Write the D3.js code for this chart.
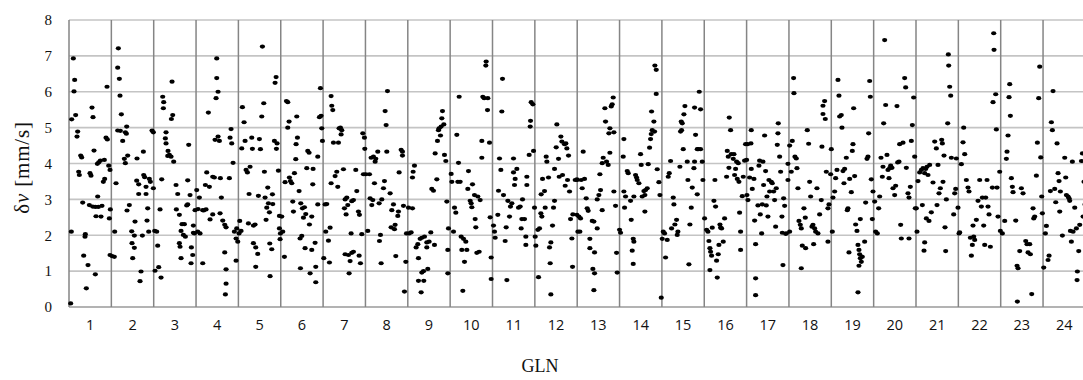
<!DOCTYPE html>
<html>
<head>
<meta charset="utf-8">
<script src="https://cdn.jsdelivr.net/npm/d3@7"></script>
<style>
  html, body { margin: 0; padding: 0; background: #fff; }
  svg { display: block; }
</style>
</head>
<body>
<svg id="chart" width="1083" height="380"></svg>
<script>
// GLONASS slot numbers (categories)
const gln = d3.range(1, 25);
const yTicks = [0, 1, 2, 3, 4, 5, 6, 7, 8];
// each point: [epoch index within slot window (0-127), δv in mm/s]
const g1 = [[5,0.10],[13,6.93],[17,6.33],[15,6.01],[20,5.35],[8,5.23],[26,4.89],[24,4.75],[35,4.22],[38,4.17],[29,3.77],[31,3.68],[7,2.10],[41,2.91],[49,2.03],[48,1.96],[44,1.43],[57,1.17],[52,0.52],[69,5.56],[72,5.29],[75,4.36],[63,3.73],[66,3.66],[61,2.84],[71,2.80],[86,3.08],[79,2.79],[81,2.53],[96,2.52],[88,2.79],[99,2.82],[79,0.91],[89,4.03],[94,4.08],[106,4.10],[85,3.99],[103,3.49],[107,3.57],[114,6.14],[111,4.72],[115,4.67],[119,3.94],[123,3.82],[124,2.72],[121,2.47],[123,1.45]];
const g2 = [[9,1.40],[2,1.42],[10,2.10],[14,3.45],[21,7.21],[19,6.67],[24,6.36],[26,5.89],[30,5.37],[19,4.92],[27,4.91],[34,4.63],[42,4.87],[46,5.03],[45,4.83],[39,4.13],[42,4.01],[49,4.22],[47,2.69],[54,2.84],[61,2.11],[62,1.78],[69,1.65],[64,1.36],[71,2.38],[69,1.99],[77,4.14],[76,3.52],[82,3.42],[82,3.15],[89,0.99],[86,0.72],[93,1.99],[97,3.68],[100,3.62],[96,4.33],[104,3.35],[104,3.15],[107,2.41],[109,2.75],[112,2.10],[114,3.57],[117,3.49],[122,4.92],[126,4.87],[126,3.31]];
const g3 = [[3,2.12],[9,2.10],[4,1.01],[12,1.71],[15,1.11],[22,0.82],[19,2.72],[24,3.56],[27,5.86],[30,5.71],[29,5.54],[55,6.28],[57,5.35],[53,5.24],[37,4.87],[35,4.70],[37,4.56],[43,4.35],[47,4.24],[42,4.21],[52,4.19],[60,4.05],[67,3.40],[72,3.15],[68,2.72],[77,2.57],[85,2.31],[92,2.31],[82,2.12],[77,1.78],[79,1.68],[82,1.36],[89,2.01],[95,1.96],[102,2.86],[99,2.83],[105,4.52],[102,3.53],[109,3.12],[113,1.66],[117,1.45],[112,1.22],[122,2.05],[119,2.27],[124,2.70],[119,2.07]];
const g4 = [[2,3.26],[6,2.73],[10,3.05],[5,2.10],[12,2.05],[20,2.70],[20,1.22],[23,2.69],[30,2.72],[28,3.40],[32,3.75],[40,3.35],[42,2.44],[50,2.58],[37,5.42],[50,3.63],[57,4.66],[55,3.61],[66,4.75],[70,4.63],[62,6.93],[62,6.38],[66,6.00],[60,5.82],[73,3.59],[76,3.05],[72,2.61],[80,2.41],[86,2.29],[90,2.22],[100,3.59],[105,4.96],[102,4.72],[107,4.56],[111,4.02],[86,1.52],[90,1.05],[90,0.65],[88,0.35],[120,1.29],[115,2.10],[120,1.91],[125,1.82],[122,2.19]];
const g5 = [[4,2.40],[2,2.05],[8,2.12],[12,5.57],[17,5.15],[10,4.42],[20,4.63],[23,3.82],[27,3.75],[35,3.91],[40,4.72],[32,3.15],[30,2.33],[42,4.41],[45,2.27],[50,2.30],[45,1.78],[52,1.66],[58,1.48],[52,1.12],[60,3.10],[66,4.40],[63,4.68],[72,7.26],[76,5.68],[70,5.31],[78,3.77],[80,3.05],[85,2.77],[88,3.33],[90,2.89],[93,2.64],[83,2.43],[94,1.77],[100,1.61],[95,0.86],[102,3.14],[103,2.87],[108,4.63],[116,4.56],[114,4.41],[110,6.25],[113,6.41],[120,3.80],[123,2.19],[126,2.05],[125,1.89],[123,2.54]];
const g6 = [[3,2.52],[6,2.10],[11,1.40],[13,3.48],[21,5.71],[17,5.74],[25,5.17],[21,5.00],[26,3.61],[29,3.51],[33,3.45],[36,2.94],[38,2.66],[41,3.73],[45,4.12],[48,5.31],[50,4.72],[46,4.54],[55,3.23],[58,1.91],[63,1.98],[60,2.89],[65,2.75],[71,2.78],[68,2.49],[75,2.59],[78,3.87],[81,4.35],[85,4.30],[73,1.64],[59,1.08],[86,2.30],[93,2.52],[97,3.85],[96,3.42],[93,1.59],[103,1.79],[88,0.94],[105,1.12],[105,0.69],[111,2.86],[111,4.19],[116,5.29],[121,5.33],[119,6.10],[125,4.63],[123,4.98]];
const g7 = [[2,1.36],[6,2.86],[11,2.87],[8,2.10],[16,1.85],[21,2.21],[19,1.24],[24,5.88],[26,5.61],[29,5.49],[24,3.45],[31,4.58],[36,3.65],[41,3.77],[44,3.35],[48,4.98],[52,5.00],[56,4.93],[54,4.81],[46,4.58],[61,3.84],[66,3.00],[64,2.75],[71,3.05],[74,2.84],[69,2.58],[84,2.05],[86,2.95],[91,2.98],[66,1.47],[76,1.45],[81,1.28],[91,1.54],[86,1.51],[98,3.82],[101,3.23],[106,2.66],[109,2.57],[108,1.43],[112,1.22],[116,2.03],[78,0.94],[119,4.84],[124,4.72],[125,4.41],[121,3.70]];
const g8 = [[1,3.70],[7,2.12],[12,3.70],[14,3.03],[19,2.84],[22,2.98],[27,3.45],[17,4.16],[24,4.19],[29,4.05],[31,4.13],[37,4.33],[41,2.89],[45,2.01],[42,1.84],[47,1.22],[49,3.00],[54,3.31],[57,3.51],[59,5.46],[62,5.07],[66,6.02],[64,4.33],[74,3.17],[77,2.22],[79,2.70],[84,2.86],[87,2.17],[91,1.42],[89,2.29],[97,2.54],[99,2.66],[101,3.75],[107,4.38],[111,4.33],[111,4.22],[114,2.82],[117,0.43],[121,1.26],[123,2.05]];
const g9 = [[2,2.77],[14,2.75],[4,2.05],[10,2.08],[14,3.61],[16,3.77],[20,3.94],[25,1.66],[30,1.75],[32,1.36],[37,1.90],[42,1.93],[47,1.00],[42,0.96],[32,0.73],[48,0.73],[40,0.41],[60,1.06],[50,1.96],[57,1.80],[57,1.66],[64,1.82],[69,2.08],[72,3.29],[77,3.24],[80,1.73],[82,4.28],[87,3.56],[89,4.63],[94,4.98],[92,4.93],[98,4.78],[100,5.03],[102,5.26],[104,5.46],[108,5.09],[110,4.24],[114,4.07],[117,2.94],[120,0.94],[120,1.59],[122,2.19]];
const g10 = [[3,3.71],[5,3.49],[10,2.10],[13,2.77],[17,2.63],[20,4.80],[25,4.02],[27,5.86],[23,3.49],[30,3.49],[33,1.96],[35,1.59],[40,1.90],[43,1.26],[38,0.45],[47,1.82],[50,1.59],[53,3.29],[55,3.79],[60,2.96],[65,2.78],[67,3.42],[63,2.89],[73,3.12],[75,2.45],[77,2.22],[83,3.08],[80,1.51],[87,1.54],[90,2.98],[95,4.63],[95,4.16],[98,5.86],[102,5.82],[108,6.84],[107,6.73],[112,5.49],[113,5.82],[118,4.58],[120,2.50],[123,1.38],[123,0.78]];
const g11 = [[3,2.27],[6,2.10],[8,1.93],[16,2.57],[21,4.14],[25,3.82],[28,5.45],[30,6.36],[18,3.24],[33,3.12],[38,1.84],[41,2.22],[43,0.75],[46,2.96],[51,2.52],[54,2.80],[58,2.89],[63,4.14],[63,3.75],[68,3.57],[66,3.40],[73,3.85],[78,2.77],[83,2.80],[88,2.45],[86,2.19],[90,3.00],[96,2.45],[100,1.96],[100,1.73],[103,3.63],[103,3.40],[110,4.24],[113,5.03],[114,5.19],[116,5.71],[121,5.65],[123,4.35],[126,2.77]];
const g12 = [[1,1.96],[3,1.71],[11,0.83],[9,2.15],[14,2.19],[18,2.61],[21,2.52],[19,3.14],[23,3.57],[29,3.23],[31,2.77],[34,4.19],[36,4.05],[41,3.61],[44,1.66],[48,1.80],[46,1.22],[48,0.35],[53,2.27],[56,2.77],[59,2.96],[59,3.85],[64,4.45],[66,5.09],[71,4.13],[73,3.63],[78,4.75],[81,4.61],[83,3.68],[89,4.54],[93,4.56],[91,3.38],[96,4.42],[98,3.54],[101,4.22],[104,3.22],[107,2.45],[111,1.91],[113,1.12],[114,2.58],[121,3.54],[126,3.56],[126,2.57]];
const g13 = [[0,3.54],[2,2.10],[5,2.52],[10,2.47],[8,2.10],[12,3.54],[15,3.31],[18,4.33],[22,3.57],[27,3.03],[30,2.75],[33,2.68],[38,1.90],[38,1.64],[45,2.40],[50,2.38],[52,1.52],[60,2.19],[47,1.06],[52,0.94],[50,0.47],[60,3.00],[65,3.12],[70,3.26],[68,3.70],[75,2.70],[75,4.01],[78,4.16],[83,5.54],[85,5.17],[88,4.05],[93,3.96],[95,4.84],[98,4.98],[98,4.30],[102,5.59],[105,5.65],[108,5.84],[110,4.87],[110,3.22],[115,2.82],[118,1.51],[120,0.96]];
const g14 = [[0,2.15],[3,2.07],[13,4.68],[11,4.19],[13,3.22],[18,3.08],[15,2.77],[23,3.79],[26,3.73],[33,2.96],[35,2.43],[41,1.90],[43,1.82],[41,1.20],[38,1.57],[43,3.08],[48,3.68],[51,3.61],[53,3.54],[58,3.45],[63,4.26],[65,3.96],[68,3.08],[73,3.23],[76,3.12],[78,3.26],[83,3.31],[76,2.66],[86,3.98],[90,4.44],[93,4.68],[95,4.82],[98,4.93],[96,5.45],[103,5.17],[105,4.89],[106,6.73],[110,6.61],[110,5.94],[113,3.84],[118,3.48],[121,3.12],[125,0.26]];
const g15 = [[1,1.90],[4,2.10],[8,2.05],[11,1.38],[16,1.87],[19,3.63],[22,3.73],[26,4.07],[29,2.19],[34,3.05],[36,2.86],[39,2.30],[44,2.43],[46,2.01],[48,2.10],[54,3.91],[56,4.89],[59,4.93],[58,5.17],[61,5.12],[66,5.37],[69,5.60],[64,4.40],[76,4.05],[78,3.54],[81,1.19],[84,2.30],[88,2.77],[91,3.33],[96,3.87],[98,4.05],[101,4.80],[106,4.40],[109,4.40],[116,4.40],[112,6.00],[116,5.51],[98,5.56],[106,3.14],[123,3.54],[121,4.05]];
const g16 = [[1,2.47],[7,2.15],[11,2.10],[14,1.84],[17,1.64],[19,1.54],[22,1.43],[24,2.21],[17,1.03],[29,2.96],[34,2.80],[32,3.54],[37,1.29],[39,0.82],[42,1.47],[44,1.73],[47,2.30],[49,2.21],[52,2.19],[57,1.82],[61,2.47],[67,3.63],[69,4.35],[72,4.19],[74,3.88],[75,5.28],[79,4.93],[81,4.26],[87,4.13],[89,4.26],[91,3.68],[94,3.85],[97,4.05],[99,3.57],[102,4.01],[104,3.49],[106,2.63],[109,1.59],[109,2.10],[114,3.09],[117,3.63],[121,4.08],[124,4.54]];
const g17 = [[1,3.12],[4,2.98],[9,3.61],[3,4.54],[13,4.56],[14,4.93],[0,4.10],[14,3.85],[17,3.29],[24,2.41],[22,3.57],[27,1.75],[27,0.80],[27,0.33],[34,2.83],[37,3.94],[39,4.08],[41,2.58],[45,2.05],[49,4.05],[51,3.40],[54,4.78],[47,2.86],[57,3.79],[59,2.83],[61,3.08],[64,2.52],[67,3.54],[69,3.22],[74,3.49],[77,3.45],[81,3.22],[84,2.98],[87,2.24],[89,3.31],[92,4.52],[94,4.84],[95,5.12],[99,4.19],[102,3.77],[106,2.52],[109,1.17],[111,3.03],[114,2.82],[107,2.07],[117,2.04],[119,2.05],[124,3.54],[124,3.99]];
const g18 = [[2,4.50],[2,2.10],[7,3.77],[10,4.63],[14,6.38],[15,5.96],[18,4.19],[22,4.14],[24,3.87],[27,3.31],[30,2.40],[34,2.29],[37,2.19],[40,1.71],[45,2.75],[50,1.64],[37,1.08],[49,2.49],[55,4.93],[59,4.55],[62,3.49],[65,3.08],[69,2.24],[72,2.29],[74,1.75],[77,2.19],[80,2.10],[84,3.31],[87,2.05],[92,2.58],[97,2.98],[99,4.47],[102,5.61],[107,5.74],[102,5.38],[109,5.24],[112,3.77],[117,2.75],[120,2.86],[117,1.82],[125,3.70],[127,4.40]];
const g19 = [[3,2.10],[5,3.05],[10,3.22],[13,3.59],[17,3.82],[20,6.33],[23,5.89],[25,5.31],[30,5.35],[32,5.00],[35,3.79],[40,3.85],[38,3.45],[45,4.16],[50,2.75],[48,2.70],[53,1.52],[55,3.57],[60,3.20],[63,4.35],[65,4.54],[67,5.54],[70,3.65],[73,2.30],[77,2.12],[80,1.73],[83,1.59],[85,1.47],[87,1.36],[90,1.26],[93,1.40],[80,0.41],[83,1.15],[87,2.45],[100,1.82],[103,2.91],[107,4.13],[110,4.19],[112,4.84],[115,6.30],[117,5.86],[120,3.56],[125,3.22],[123,2.45]];
const g20 = [[3,2.94],[6,2.10],[11,2.05],[15,2.75],[18,3.08],[22,4.16],[26,3.63],[28,3.91],[30,5.12],[33,7.44],[36,5.63],[40,4.24],[43,3.82],[46,3.59],[48,3.87],[51,3.94],[55,3.88],[58,3.31],[63,3.12],[66,3.38],[70,5.60],[72,4.03],[76,4.05],[78,4.54],[81,2.29],[83,1.91],[88,4.58],[93,6.38],[96,6.12],[98,3.88],[103,3.17],[106,3.05],[110,3.35],[113,4.63],[116,5.07],[120,5.84],[123,4.19],[106,1.91],[125,2.75]];
const g21 = [[1,2.75],[3,2.10],[6,3.51],[11,3.75],[16,3.82],[21,3.87],[26,3.73],[29,3.85],[33,3.91],[36,3.68],[41,3.96],[19,2.84],[26,1.80],[24,1.57],[31,2.47],[39,2.40],[46,2.64],[51,3.47],[56,4.61],[61,4.42],[63,2.84],[66,3.96],[69,3.17],[73,3.31],[77,4.66],[79,4.56],[81,3.49],[84,4.22],[87,2.22],[89,1.56],[91,3.00],[95,5.12],[97,7.04],[98,6.73],[101,6.14],[104,5.89],[106,4.16],[113,2.58],[116,3.17],[119,3.29],[121,4.14],[126,2.77]];
const g22 = [[2,2.05],[4,2.08],[9,3.98],[14,4.59],[16,5.00],[19,4.26],[24,3.54],[29,3.33],[32,3.22],[36,1.93],[39,1.43],[42,1.73],[46,1.96],[49,1.87],[44,2.27],[54,2.43],[59,2.96],[64,3.54],[69,2.80],[72,3.05],[76,2.27],[82,3.05],[79,1.73],[86,3.54],[89,2.80],[92,2.58],[96,1.68],[102,3.33],[104,5.71],[106,7.63],[107,7.17],[112,5.93],[114,4.95],[116,3.33],[119,2.52],[124,3.77],[126,2.12]];
const g23 = [[5,2.05],[12,2.40],[17,4.13],[19,4.33],[22,4.78],[25,5.85],[27,6.21],[29,5.33],[32,3.59],[35,3.35],[37,3.20],[45,2.41],[49,1.15],[52,1.08],[50,0.15],[57,1.56],[62,3.31],[67,3.17],[75,1.84],[79,1.75],[82,1.52],[87,1.75],[89,1.47],[93,0.36],[97,2.75],[99,2.47],[102,2.52],[107,3.66],[110,4.58],[114,5.82],[117,6.70],[120,4.17],[123,3.08],[125,2.61]];
const g24 = [[2,1.10],[7,2.05],[10,2.26],[15,1.31],[18,1.43],[22,3.23],[25,5.15],[28,4.93],[30,6.02],[35,3.29],[38,2.92],[42,4.56],[45,3.73],[48,3.51],[50,2.66],[52,3.22],[58,1.99],[65,4.16],[68,3.61],[70,3.12],[75,3.08],[78,3.03],[80,2.96],[82,2.12],[85,1.82],[88,4.05],[90,2.10],[95,2.77],[100,2.19],[103,0.99],[102,0.75],[107,1.56],[110,2.29],[115,4.07],[118,4.28],[120,2.52],[123,3.49],[126,2.86]];

const panels = [g1,g2,g3,g4,g5,g6,g7,g8,g9,g10,g11,g12,g13,g14,g15,g16,g17,g18,g19,g20,g21,g22,g23,g24];
const points = [];
panels.forEach((arr, i) => arr.forEach(([e, v]) => points.push({ g: gln[i], e, v })));

const svg = d3.select("#chart");
const mLeft = 69, mTop = 20, mBottom = 307;
const mRight = mLeft + 24 * 42.35;

const x = d3.scaleBand().domain(gln).range([mLeft, mRight]).padding(0);
const ep = d3.scaleLinear().domain([0, 127]).range([0, x.bandwidth()]);
const y = d3.scaleLinear().domain([0, 8]).range([mBottom, mTop]);

svg.append("rect").attr("width", 1083).attr("height", 380).attr("fill", "#fff");

// horizontal grid lines
svg.append("g").selectAll("line").data(yTicks).join("line")
  .attr("x1", mLeft).attr("x2", mRight)
  .attr("y1", d => y(d)).attr("y2", d => y(d))
  .attr("stroke", d => d === 0 ? "#9a9a9a" : "#c4c4c4")
  .attr("stroke-width", 1.6);

// vertical separators
const seps = gln.map(g => x(g)).concat([mRight]);
svg.append("g").selectAll("line").data(seps).join("line")
  .attr("x1", d => d).attr("x2", d => d)
  .attr("y1", y(8)).attr("y2", y(0))
  .attr("stroke", "#858585")
  .attr("stroke-width", 1.5);

// points
svg.append("g").selectAll("ellipse").data(points).join("ellipse")
  .attr("cx", d => x(d.g) + ep(d.e))
  .attr("cy", d => y(d.v))
  .attr("rx", 2.6).attr("ry", 2.1)
  .attr("fill", "#000");

// y axis
const yAxis = svg.append("g").attr("transform", `translate(${mLeft},0)`)
  .call(d3.axisLeft(y).tickValues(yTicks).tickSize(0).tickPadding(17).tickFormat(d3.format("d")));
yAxis.select(".domain").remove();
yAxis.selectAll("text").attr("font-family", "Liberation Serif, serif").attr("font-size", 15).attr("fill", "#111");

// x axis
const xAxis = svg.append("g").attr("transform", `translate(0,${mBottom})`)
  .call(d3.axisBottom(x).tickSize(0).tickPadding(13));
xAxis.select(".domain").remove();
xAxis.selectAll("text").attr("font-family", "Open Sans, Liberation Sans, sans-serif").attr("font-size", 14.5).attr("fill", "#111");

// axis titles
const yl = svg.append("text")
  .attr("transform", `translate(29,${(mTop + mBottom) / 2 + 4}) rotate(-90)`)
  .attr("text-anchor", "middle")
  .attr("font-family", "Liberation Serif, serif")
  .attr("font-size", 21).attr("letter-spacing", 0.8).attr("fill", "#111");
yl.append("tspan").text("δ");
yl.append("tspan").attr("font-style", "italic").text("v");
yl.append("tspan").text(" [mm/s]");

svg.append("text")
  .attr("x", 540).attr("y", 372)
  .attr("text-anchor", "middle")
  .attr("font-family", "Liberation Serif, serif")
  .attr("font-size", 18).attr("fill", "#111")
  .text("GLN");
</script>
</body>
</html>
